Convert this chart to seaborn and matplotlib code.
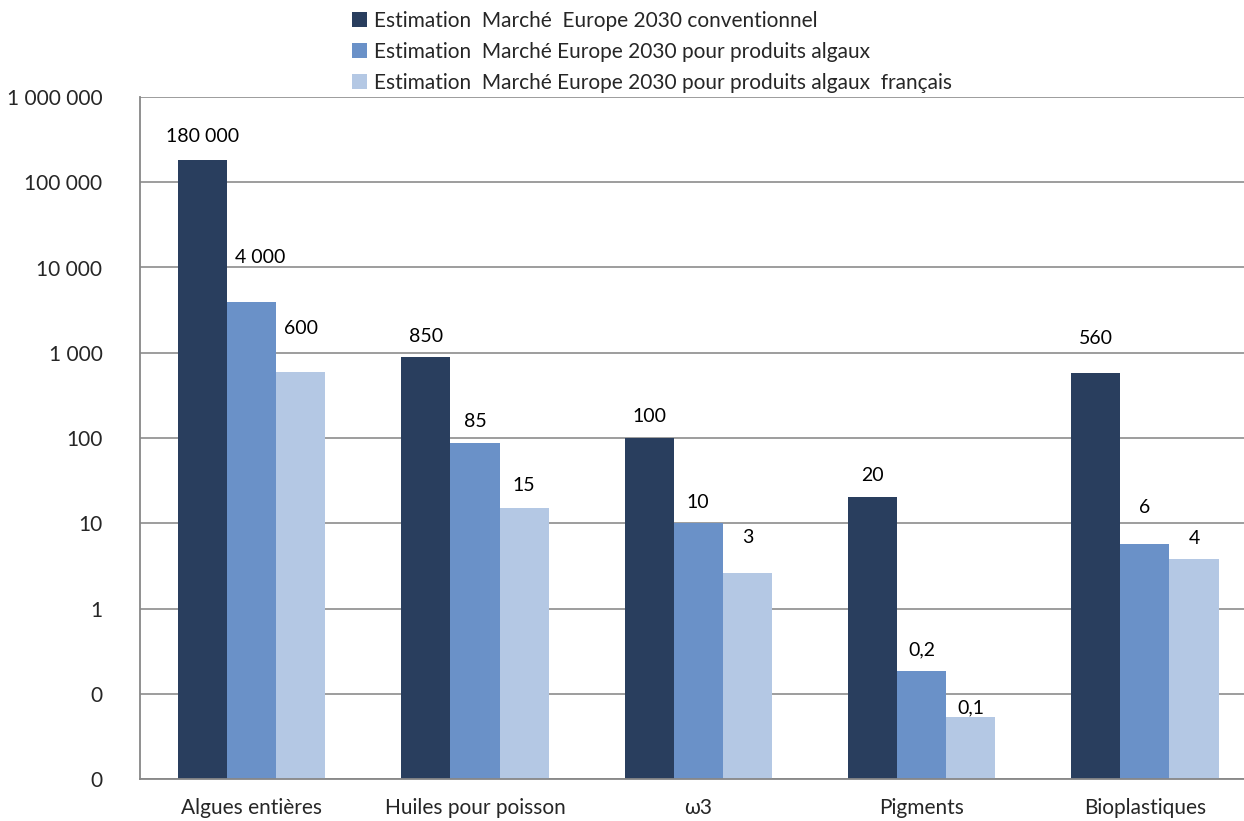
import numpy as np
import pandas as pd
import matplotlib
matplotlib.use("Agg")
import matplotlib.pyplot as plt
import seaborn as sns

# Données du graphique (échelle log)
categories = ["Algues entières", "Huiles pour poisson", "ω3", "Pigments", "Bioplastiques"]
series = [
    "Estimation  Marché  Europe 2030 conventionnel",
    "Estimation  Marché Europe 2030 pour produits algaux",
    "Estimation  Marché Europe 2030 pour produits algaux  français",
]
conventionnel = [180000, 880, 100, 20.3, 576]
algaux = [3950, 87, 10, 0.183, 5.7]
algaux_fr = [597, 15.3, 2.6, 0.054, 3.8]

labels_conventionnel = ["180 000", "850", "100", "20", "560"]
labels_algaux = ["4 000", "85", "10", "0,2", "6"]
labels_algaux_fr = ["600", "15", "3", "0,1", "4"]

ytick_values = [0.01, 0.1, 1, 10, 100, 1000, 10000, 100000, 1000000]
ytick_labels = ["0", "0", "1", "10", "100", "1 000", "10 000", "100 000", "1 000 000"]

colors = ["#293E5E", "#6A91C8", "#B4C8E4"]

# position des étiquettes (décalage en pixels au-dessus de la barre)
label_dy = [[24, 21, 22, 22, 35],
            [44, 22, 21, 22, 37],
            [43, 22, 36, 9, 21]]
label_dx = [[0, 0, 0, 0, 0],
            [9, 0, 0, 0, 0],
            [0, 0, 0, 0, 0]]

df = pd.DataFrame({
    "categorie": categories * 3,
    "serie": [series[0]] * 5 + [series[1]] * 5 + [series[2]] * 5,
    "valeur": conventionnel + algaux + algaux_fr,
})

sns.set_theme(style="white")
plt.rcParams["font.family"] = ["Lato", "DejaVu Sans"]

fig = plt.figure(figsize=(12.44, 8.21), dpi=100)
ax = fig.add_axes([140 / 1244, 42 / 821, 1116.5 / 1244, 682 / 821])

sns.barplot(data=df, x="categorie", y="valeur", hue="serie", order=categories,
            hue_order=series, palette=colors, saturation=1, width=0.66,
            errorbar=None, linewidth=0, log_scale=True, ax=ax)

ax.set_yscale("log")
ax.set_ylim(0.01, 1000000)
ax.set_xlim(-0.5, 4.5)
ax.set_yticks(ytick_values)
ax.set_yticklabels(ytick_labels)
ax.yaxis.set_minor_locator(matplotlib.ticker.NullLocator())
ax.set_xlabel("")
ax.set_ylabel("")

# ticks x aux limites des catégories
ax.set_xticks(range(len(categories)))
ax.set_xticklabels(categories)
ax.set_xticks(np.arange(-0.5, len(categories), 1), minor=True)
ax.tick_params(axis="x", which="major", length=0, pad=14, labelsize=15)
ax.tick_params(axis="x", which="minor", length=5, width=1.2, color="#878787", direction="out")
ax.tick_params(axis="y", which="major", length=5, width=1.2, color="#878787",
               direction="out", pad=22, labelsize=15)

ax.yaxis.grid(True, color="#8C8C8C", linewidth=1.2)
ax.set_axisbelow(True)
for side in ["top", "right"]:
    ax.spines[side].set_visible(False)
for side in ["left", "bottom"]:
    ax.spines[side].set_color("#878787")
    ax.spines[side].set_linewidth(1.3)

# étiquettes de données
all_labels = [labels_conventionnel, labels_algaux, labels_algaux_fr]
for i, cont in enumerate(ax.containers):
    for j, bar in enumerate(cont):
        xc = bar.get_x() + bar.get_width() / 2
        ax.annotate(all_labels[i][j], xy=(xc, bar.get_height()),
                    xytext=(label_dx[i][j], label_dy[i][j]), textcoords="offset pixels",
                    ha="center", va="center", fontsize=14, color="black")

handles, labs = ax.get_legend_handles_labels()
ax.legend(handles, labs, loc="upper left", bbox_to_anchor=(352 / 1244, 1 - 11 / 821),
          bbox_transform=fig.transFigure, frameon=False, fontsize=15,
          handlelength=0.72, handleheight=0.72, handletextpad=0.35,
          labelspacing=0.52, borderpad=0, borderaxespad=0)

fig.savefig("out.png", dpi=100)
